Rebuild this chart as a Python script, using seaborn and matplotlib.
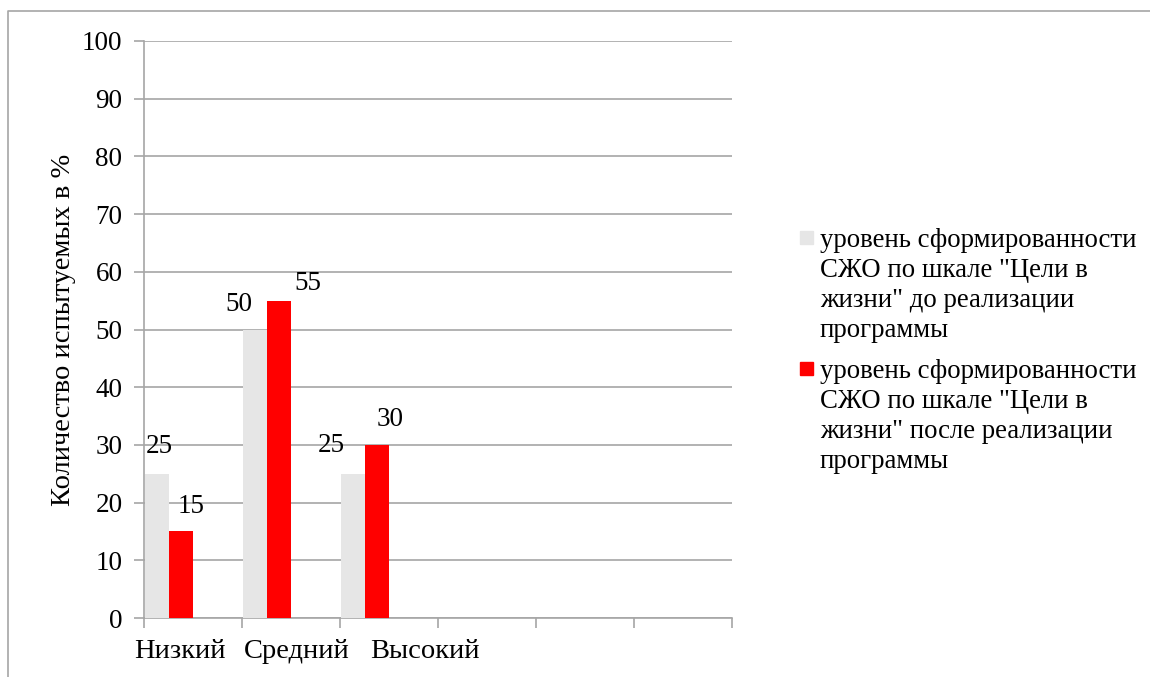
import pandas as pd
import matplotlib.pyplot as plt
import seaborn as sns
from matplotlib.lines import Line2D

# Data
categories = ["Низкий", "Средний", "Высокий"]
series_before = 'уровень сформированности\nСЖО по шкале "Цели в\nжизни" до реализации\nпрограммы'
series_after = 'уровень сформированности\nСЖО по шкале "Цели в\nжизни" после реализации\nпрограммы'
values_before = [25, 50, 25]
values_after = [15, 55, 30]
y_ticks = list(range(0, 101, 10))

# empty category slots / series slots that the original Excel chart keeps
extra_cats = ["c4", "c5", "c6"]
extra_series = ["s3", "s4"]

df = pd.DataFrame({
    "cat": categories * 2,
    "series": [series_before] * 3 + [series_after] * 3,
    "value": values_before + values_after,
})

sns.set_theme(style="white")
plt.rcParams['font.family'] = ['Liberation Serif', 'DejaVu Serif']
plt.rcParams['text.color'] = 'black'
plt.rcParams['axes.labelcolor'] = 'black'
plt.rcParams['ytick.labelcolor'] = 'black'

W, H = 1150, 677
fig = plt.figure(figsize=(11.5, 6.77), dpi=100)
ax = fig.add_axes([144 / W, 1 - 618 / H, (732 - 144) / W, (618 - 41) / H])

hue_order = [series_before, series_after] + extra_series
palette = {series_before: "#e6e6e6", series_after: "#ff0000", "s3": "#999999", "s4": "#666666"}

sns.barplot(data=df, x="cat", y="value", hue="series",
            order=categories + extra_cats, hue_order=hue_order,
            palette=palette, width=0.98, dodge=True, legend=False,
            saturation=1, errorbar=None, linewidth=0, ax=ax, zorder=3)

ax.set_xlim(-0.5, 5.5)
ax.set_ylim(0, 100)
ax.set_yticks(y_ticks)
ax.set_yticklabels([str(t) for t in y_ticks], fontsize=19.5, color="black")
ax.yaxis.grid(True, color="#a6a6a6", linewidth=1.2, zorder=0)
ax.set_axisbelow(True)

# tick marks at category boundaries; names placed as in the original
ax.set_xticks([i - 0.5 for i in range(7)])
ax.set_xticklabels([])
ax.tick_params(axis="x", direction="out", length=7, width=1.2, color="#a6a6a6", bottom=True)
ax.tick_params(axis="y", direction="out", length=7, width=1.2, color="#a6a6a6", left=True, pad=8.5)
label_shift = [-0.13, 0.06, 0.37]
for i, (name, s) in enumerate(zip(categories, label_shift)):
    ax.annotate(name, xy=(i + s, 0), xycoords=("data", "axes fraction"),
                xytext=(0, -21), textcoords="offset pixels",
                ha="center", va="top", fontsize=20.5, color="black")

for side in ["top", "right"]:
    ax.spines[side].set_visible(False)
for side in ["left", "bottom"]:
    ax.spines[side].set_color("#a6a6a6")
    ax.spines[side].set_linewidth(1.2)

ax.set_xlabel("")
ax.set_ylabel("Количество испытуемых в %", fontsize=20.5, labelpad=4, color="black")

# value labels (pixel offsets, as Excel placed them)
offs_before = [(2, 27), (-16, 25), (-22, 28)]
offs_after = [(10, 25), (29, 17), (13, 25)]
for cont, vals, offs in zip(ax.containers[:2], [values_before, values_after], [offs_before, offs_after]):
    for bar, v, (dx, dy) in zip(cont.patches, vals, offs):
        ax.annotate(str(v), xy=(bar.get_x() + bar.get_width() / 2, bar.get_height()),
                    xytext=(dx, dy), textcoords="offset pixels",
                    ha="center", va="center", fontsize=19.5, color="black")

# legend drawn by hand so the marker sits at the first line of each label
for label, top in [(series_before, 228), (series_after, 359)]:
    fig.patches.append(plt.Rectangle((800 / W, 1 - (top + 16) / H), 13 / W, 13 / H,
                                     transform=fig.transFigure, color=palette[label]))
    fig.text(820 / W, 1 - top / H, label, ha="left", va="top",
             fontsize=19.3, linespacing=1.26, color="black")

# outer chart border (left and top edges visible)
fig.add_artist(Line2D([8 / W, 8 / W, 1.0], [0.0, 1 - 11 / H, 1 - 11 / H],
                      transform=fig.transFigure, color="#a6a6a6", linewidth=1.2))

fig.savefig("out.png", dpi=100)
